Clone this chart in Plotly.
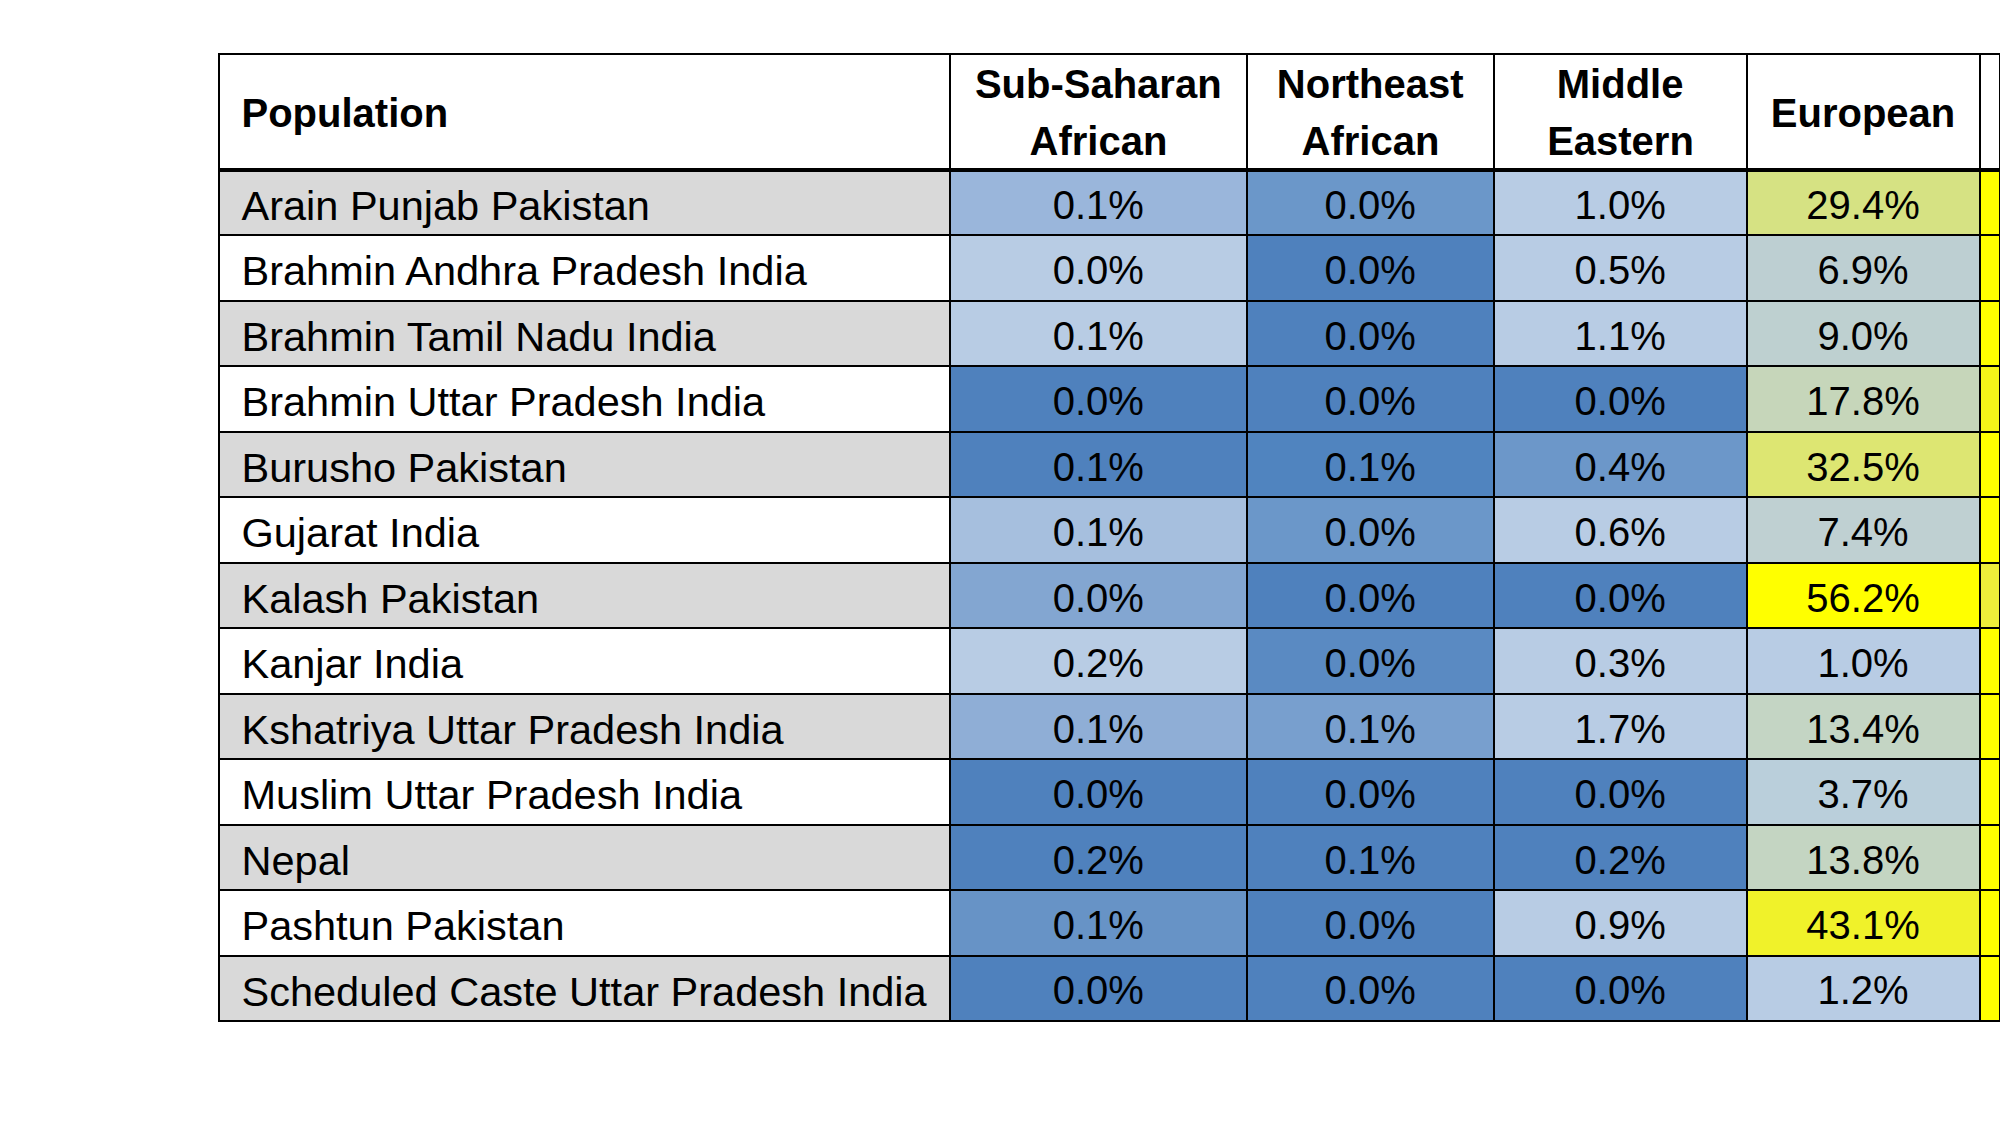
import plotly.graph_objects as go

populations = [
    "Arain Punjab Pakistan", "Brahmin Andhra Pradesh India", "Brahmin Tamil Nadu India",
    "Brahmin Uttar Pradesh India", "Burusho Pakistan", "Gujarat India", "Kalash Pakistan",
    "Kanjar India", "Kshatriya Uttar Pradesh India", "Muslim Uttar Pradesh India", "Nepal",
    "Pashtun Pakistan", "Scheduled Caste Uttar Pradesh India",
]
# header text, split in the lines shown in the picture
header_line1 = ["", "Sub-Saharan", "Northeast", "Middle", "", ""]
header_line2 = ["", "African", "African", "Eastern", "", ""]
header_single = ["Population", "", "", "", "European", ""]

sub_saharan = [0.1, 0.0, 0.1, 0.0, 0.1, 0.1, 0.0, 0.2, 0.1, 0.0, 0.2, 0.1, 0.0]
northeast_african = [0.0, 0.0, 0.0, 0.0, 0.1, 0.0, 0.0, 0.0, 0.1, 0.0, 0.1, 0.0, 0.0]
middle_eastern = [1.0, 0.5, 1.1, 0.0, 0.4, 0.6, 0.0, 0.3, 1.7, 0.0, 0.2, 0.9, 0.0]
european = [29.4, 6.9, 9.0, 17.8, 32.5, 7.4, 56.2, 1.0, 13.4, 3.7, 13.8, 43.1, 1.2]

# cell fill colours (conditional formatting as seen in the picture)
fill_label = ["#D9D9D9" if i % 2 == 0 else "#FFFFFF" for i in range(len(populations))]
fill_sub_saharan = ["#9AB6DB", "#B8CCE4", "#B8CCE4", "#4F81BD", "#4F81BD", "#A6BFDE", "#83A6D1",
                    "#B8CCE4", "#8FAED6", "#4F81BD", "#4F81BD", "#6793C6", "#4F81BD"]
fill_northeast = ["#6B97C9", "#4F81BD", "#4F81BD", "#4F81BD", "#5084BF", "#6B97C9", "#4F81BD",
                  "#5A8AC2", "#789FCE", "#4F81BD", "#4F81BD", "#4F81BD", "#4F81BD"]
fill_middle_east = ["#B8CCE4", "#B8CCE4", "#B8CCE4", "#4F81BD", "#6C97C9", "#B8CCE4", "#4F81BD",
                    "#B8CCE4", "#B8CCE4", "#4F81BD", "#4F81BD", "#B8CCE4", "#4F81BD"]
fill_european = ["#D6E283", "#BDCFD2", "#BED0D0", "#C6D6BA", "#DDE672", "#BFD0D2", "#FFFF00",
                 "#B8CCE4", "#C4D5C4", "#BACFDB", "#C4D5C2", "#F0F22A", "#B8CCE4"]
fill_cutoff = ["#FFFF00", "#FFFF00", "#FFFF00", "#F5F519", "#FFFF00", "#FFFF00", "#EEEE3A",
               "#FFFF00", "#FFFF00", "#FFFF00", "#FFFF00", "#FFFF00", "#FFFF00"]

FONT = "Liberation Sans, Arial, sans-serif"
FS = 40
FS_NAMES = 41.5
W, H = 2000, 1125
left, top = 219, 54        # wanted pixel position of the table frame
header_h, row_h = 116, 65.46
col_widths = [731, 297, 247, 253, 233]
col_widths.append(W - left - sum(col_widths))   # column cut off by the right edge
indent = 14.5              # extra left indent of the population names
base = 8 + 0.79 * FS       # where plotly puts the first baseline below a cell top
cell_base, head1_base, head2_base, single_base = 50.5, 40, 97, 69

TRANSPARENT = "rgba(0,0,0,0)"
ncol = len(col_widths)
aligns = ["left"] + ["center"] * (ncol - 1)
NOLINE = dict(color=TRANSPARENT, width=0)


def pct(vals):
    return [f"{v:.1f}%" for v in vals]


def bold(vals):
    return [f"<b>{v}</b>" if v else "" for v in vals]


def xdom(shift=0):
    return [(left + shift) / W, 1]


def ydom(shift=0):
    return [0, 1 - (top + shift) / H]


empty_cells = [[""] for _ in range(ncol)]
text_widths = [col_widths[0] - indent] + col_widths[1:]

fig = go.Figure()
# 1) frame, borders and fills
fig.add_trace(go.Table(
    domain=dict(x=xdom(), y=ydom()),
    columnwidth=col_widths,
    header=dict(values=[""] * ncol, fill_color="white",
                line=dict(color="black", width=2), height=header_h),
    cells=dict(values=[[""] * len(populations)] * ncol,
               fill_color=[fill_label, fill_sub_saharan, fill_northeast, fill_middle_east,
                           fill_european, fill_cutoff],
               line=dict(color="black", width=2), height=row_h),
))

# 2) cell texts + first header line
off1 = head1_base - base
fig.add_trace(go.Table(
    domain=dict(x=xdom(indent), y=ydom(off1)),
    columnwidth=text_widths,
    header=dict(values=bold(header_line1), align=aligns, fill_color=TRANSPARENT, line=NOLINE,
                font=dict(family=FONT, size=FS, color="black"),
                height=header_h + (cell_base - head1_base)),
    cells=dict(values=[populations, pct(sub_saharan), pct(northeast_african),
                       pct(middle_eastern), pct(european), [""] * len(populations)],
               align=aligns, fill_color=TRANSPARENT, line=NOLINE,
               font=dict(family=FONT, size=[FS_NAMES] + [FS] * (ncol - 1), color="black"),
               height=row_h),
))

# 3) single-line headers (vertically centred)
fig.add_trace(go.Table(
    domain=dict(x=xdom(indent), y=ydom(single_base - base)),
    columnwidth=text_widths,
    header=dict(values=bold(header_single), align=aligns, fill_color=TRANSPARENT, line=NOLINE,
                font=dict(family=FONT, size=FS, color="black"), height=50),
    cells=dict(values=empty_cells, fill_color=TRANSPARENT, line=NOLINE, height=10),
))

# 4) second header line
fig.add_trace(go.Table(
    domain=dict(x=xdom(), y=ydom(head2_base - base)),
    columnwidth=col_widths,
    header=dict(values=bold(header_line2), align=aligns, fill_color=TRANSPARENT, line=NOLINE,
                font=dict(family=FONT, size=FS, color="black"), height=50),
    cells=dict(values=empty_cells, fill_color=TRANSPARENT, line=NOLINE, height=10),
))

# thick rule under the header
y_rule = 1 - (top + header_h) / H
fig.add_shape(type="line", xref="paper", yref="paper",
              x0=left / W, x1=1, y0=y_rule, y1=y_rule,
              line=dict(color="black", width=4), layer="above")

fig.update_layout(width=W, height=H, margin=dict(l=0, r=0, t=0, b=0),
                  paper_bgcolor="white", plot_bgcolor="white")
fig.write_html("out.html", config={"displayModeBar": False},
               post_script="document.body.style.margin='0';document.body.style.overflow='hidden';")
